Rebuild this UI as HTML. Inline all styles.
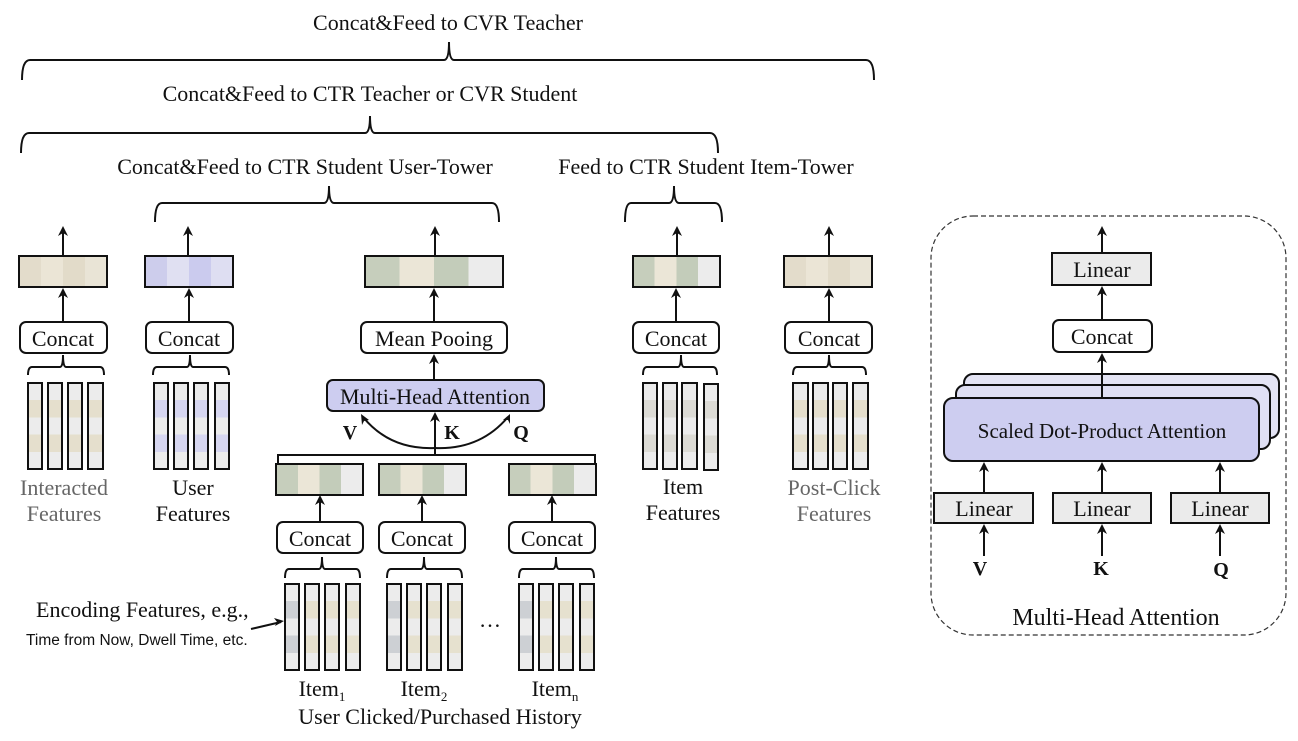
<!DOCTYPE html>
<html><head><meta charset="utf-8"><style>
html,body{margin:0;padding:0;background:#fff;}
svg{display:block;}
text{font-family:"Liberation Serif",serif;fill:#111;}
</style></head><body>
<svg width="1298" height="741" viewBox="0 0 1298 741" xmlns="http://www.w3.org/2000/svg">
<defs>
<linearGradient id="gTan" x1="0" x2="1" y1="0" y2="0">
<stop offset="0" stop-color="#e3dccb"/><stop offset="0.25" stop-color="#e3dccb"/><stop offset="0.25" stop-color="#ebe5d6"/><stop offset="0.5" stop-color="#ebe5d6"/><stop offset="0.5" stop-color="#e2dbc9"/><stop offset="0.75" stop-color="#e2dbc9"/><stop offset="0.75" stop-color="#e9e4d6"/><stop offset="1" stop-color="#e9e4d6"/></linearGradient>
<linearGradient id="gBlue" x1="0" x2="1" y1="0" y2="0">
<stop offset="0" stop-color="#cdcdec"/><stop offset="0.25" stop-color="#cdcdec"/><stop offset="0.25" stop-color="#e0e0f2"/><stop offset="0.5" stop-color="#e0e0f2"/><stop offset="0.5" stop-color="#cbcbee"/><stop offset="0.75" stop-color="#cbcbee"/><stop offset="0.75" stop-color="#dedef2"/><stop offset="1" stop-color="#dedef2"/></linearGradient>
<linearGradient id="gGreen" x1="0" x2="1" y1="0" y2="0">
<stop offset="0" stop-color="#c6cebc"/><stop offset="0.25" stop-color="#c6cebc"/><stop offset="0.25" stop-color="#ebe6d7"/><stop offset="0.5" stop-color="#ebe6d7"/><stop offset="0.5" stop-color="#c3ccba"/><stop offset="0.75" stop-color="#c3ccba"/><stop offset="0.75" stop-color="#ececec"/><stop offset="1" stop-color="#ececec"/></linearGradient>
<linearGradient id="vTan" x1="0" x2="0" y1="0" y2="1">
<stop offset="0" stop-color="#ececec"/><stop offset="0.2" stop-color="#ececec"/><stop offset="0.2" stop-color="#e5dfcd"/><stop offset="0.4" stop-color="#e5dfcd"/><stop offset="0.4" stop-color="#ececec"/><stop offset="0.6" stop-color="#ececec"/><stop offset="0.6" stop-color="#e5dfcd"/><stop offset="0.8" stop-color="#e5dfcd"/><stop offset="0.8" stop-color="#ececec"/><stop offset="1" stop-color="#ececec"/></linearGradient>
<linearGradient id="vBlue" x1="0" x2="0" y1="0" y2="1">
<stop offset="0" stop-color="#ececec"/><stop offset="0.2" stop-color="#ececec"/><stop offset="0.2" stop-color="#d6d6f0"/><stop offset="0.4" stop-color="#d6d6f0"/><stop offset="0.4" stop-color="#ececec"/><stop offset="0.6" stop-color="#ececec"/><stop offset="0.6" stop-color="#d6d6f0"/><stop offset="0.8" stop-color="#d6d6f0"/><stop offset="0.8" stop-color="#ececec"/><stop offset="1" stop-color="#ececec"/></linearGradient>
<linearGradient id="vMix" x1="0" x2="0" y1="0" y2="1">
<stop offset="0" stop-color="#ececec"/><stop offset="0.2" stop-color="#ececec"/><stop offset="0.2" stop-color="#dcdbd5"/><stop offset="0.4" stop-color="#dcdbd5"/><stop offset="0.4" stop-color="#ececec"/><stop offset="0.6" stop-color="#ececec"/><stop offset="0.6" stop-color="#dcdbd5"/><stop offset="0.8" stop-color="#dcdbd5"/><stop offset="0.8" stop-color="#ececec"/><stop offset="1" stop-color="#ececec"/></linearGradient>
<linearGradient id="vGray" x1="0" x2="0" y1="0" y2="1">
<stop offset="0" stop-color="#ececec"/><stop offset="0.2" stop-color="#ececec"/><stop offset="0.2" stop-color="#cdd0d4"/><stop offset="0.4" stop-color="#cdd0d4"/><stop offset="0.4" stop-color="#ececec"/><stop offset="0.6" stop-color="#ececec"/><stop offset="0.6" stop-color="#cdd0d4"/><stop offset="0.8" stop-color="#cdd0d4"/><stop offset="0.8" stop-color="#ececec"/><stop offset="1" stop-color="#ececec"/></linearGradient>
<linearGradient id="vItem" x1="0" x2="0" y1="0" y2="1">
<stop offset="0" stop-color="#ececec"/><stop offset="0.2" stop-color="#ececec"/><stop offset="0.2" stop-color="#e6e1cf"/><stop offset="0.4" stop-color="#e6e1cf"/><stop offset="0.4" stop-color="#ececec"/><stop offset="0.6" stop-color="#ececec"/><stop offset="0.6" stop-color="#e6e1cf"/><stop offset="0.8" stop-color="#e6e1cf"/><stop offset="0.8" stop-color="#ececec"/><stop offset="1" stop-color="#ececec"/></linearGradient>
</defs>

<g fill="none" stroke="#111" stroke-width="2">
<path d="M22 80 Q22 60 30 60 L444 60 Q449 60 449 42 Q449 60 454 60 L866 60 Q874 60 874 80"/>
<path d="M21 153 Q21 133 29 133 L365 133 Q370 133 370 116 Q370 133 375 133 L710 133 Q718 133 718 153"/>
<path d="M155 222 Q155 203 162 203 L324 203 Q329 203 329 186 Q329 203 334 203 L492 203 Q499 203 499 222"/>
<path d="M625 222 Q625 203 631 203 L669 203 Q674 203 674 186 Q674 203 679 203 L715 203 Q722 203 722 222"/>
<path d="M28 375 Q28 367 32 367 L60 367 Q63 367 63 355 Q63 367 66 367 L100 367 Q104 367 104 375"/>
<path d="M153 375 Q153 367 157 367 L187 367 Q190 367 190 355 Q190 367 193 367 L225 367 Q229 367 229 375"/>
<path d="M643 375 Q643 367 647 367 L678 367 Q681 367 681 355 Q681 367 684 367 L713 367 Q717 367 717 375"/>
<path d="M793 375 Q793 367 797 367 L826 367 Q829 367 829 355 Q829 367 832 367 L862 367 Q866 367 866 375"/>
<path d="M285 578 Q285 569 289 569 L319 569 Q322 569 322 557 Q322 569 325 569 L356 569 Q360 569 360 578"/>
<path d="M387 578 Q387 569 391 569 L421 569 Q424 569 424 557 Q424 569 427 569 L458 569 Q462 569 462 578"/>
<path d="M519 578 Q519 569 523 569 L553 569 Q556 569 556 557 Q556 569 559 569 L590 569 Q594 569 594 578"/>
</g>

<g font-size="22" text-anchor="middle">
<text x="448" y="30">Concat&amp;Feed to CVR Teacher</text>
<text x="370" y="101">Concat&amp;Feed to CTR Teacher or CVR Student</text>
<text x="305" y="174">Concat&amp;Feed to CTR Student User-Tower</text>
<text x="706" y="174">Feed to CTR Student Item-Tower</text>
</g>

<g stroke="#111" stroke-width="2" fill="none">
<path d="M63 255 V230 M188 255 V230 M435 255 V230 M677 255 V230 M829 255 V230"/>
<path d="M63 322 V290 M189 322 V290 M434 322 V290 M676 322 V290 M829 322 V290"/>
<path d="M434 380 V356"/>
<path d="M320 521 V497 M422 521 V497 M552 521 V497"/>
<path d="M435 455 V414"/>
<path d="M278 463 V455 H595 V463"/>
<path d="M435 448 Q390 450 363 417"/>
<path d="M435 448 Q480 450 508 417"/>
<path d="M251 629 L281 622"/>
<path d="M1102 253 V228 M1102 320 V288 M1102 398 V355"/>
<path d="M984 493 V464 M1102 493 V464 M1220 493 V464"/>
<path d="M984 556 V526 M1102 556 V526 M1220 556 V526"/>
</g>
<g fill="#111">
<path d="M63 226 l-5 10 l5 -3 l5 3z M188 226 l-5 10 l5 -3 l5 3z M435 226 l-5 10 l5 -3 l5 3z M677 226 l-5 10 l5 -3 l5 3z M829 226 l-5 10 l5 -3 l5 3z"/>
<path d="M63 288 l-5 10 l5 -3 l5 3z M189 288 l-5 10 l5 -3 l5 3z M434 288 l-5 10 l5 -3 l5 3z M676 288 l-5 10 l5 -3 l5 3z M829 288 l-5 10 l5 -3 l5 3z"/>
<path d="M434 354 l-5 10 l5 -3 l5 3z M435 412 l-5 10 l5 -3 l5 3z"/>
<path d="M320 495 l-5 10 l5 -3 l5 3z M422 495 l-5 10 l5 -3 l5 3z M552 495 l-5 10 l5 -3 l5 3z"/>
<path d="M361 414 l1 11 l2 -4 l5 -1z M510 414 l-7 6 l5 0 l2 4z"/>
<path d="M284 621 l-10 -3 l3 4 l-2 4z"/>
<path d="M1102 226 l-5 10 l5 -3 l5 3z M1102 286 l-5 10 l5 -3 l5 3z M1102 353 l-5 10 l5 -3 l5 3z"/>
<path d="M984 462 l-5 10 l5 -3 l5 3z M1102 462 l-5 10 l5 -3 l5 3z M1220 462 l-5 10 l5 -3 l5 3z"/>
<path d="M984 524 l-5 10 l5 -3 l5 3z M1102 524 l-5 10 l5 -3 l5 3z M1220 524 l-5 10 l5 -3 l5 3z"/>
</g>

<g stroke="#111" stroke-width="2">
<rect x="19" y="256" width="88" height="31" fill="url(#gTan)"/>
<rect x="145" y="256" width="88" height="31" fill="url(#gBlue)"/>
<rect x="365" y="256" width="138" height="31" fill="url(#gGreen)"/>
<rect x="633" y="256" width="87" height="31" fill="url(#gGreen)"/>
<rect x="784" y="256" width="88" height="31" fill="url(#gTan)"/>
<rect x="276" y="464" width="87" height="31" fill="url(#gGreen)"/>
<rect x="379" y="464" width="87" height="31" fill="url(#gGreen)"/>
<rect x="509" y="464" width="87" height="31" fill="url(#gGreen)"/>
</g>

<g stroke="#111" stroke-width="2" fill="#fff">
<rect x="20" y="322" width="87" height="31" rx="6"/>
<rect x="146" y="322" width="87" height="31" rx="6"/>
<rect x="361" y="322" width="146" height="31" rx="6"/>
<rect x="633" y="322" width="86" height="31" rx="6"/>
<rect x="785" y="322" width="87" height="31" rx="6"/>
<rect x="277" y="522" width="86" height="31" rx="6"/>
<rect x="379" y="522" width="86" height="31" rx="6"/>
<rect x="509" y="522" width="86" height="31" rx="6"/>
<rect x="327" y="380" width="217" height="31" rx="6" fill="#cdcdf0"/>
</g>
<g font-size="22" text-anchor="middle">
<text x="63" y="346">Concat</text>
<text x="189" y="346">Concat</text>
<text x="434" y="346">Mean Pooing</text>
<text x="676" y="346">Concat</text>
<text x="829" y="346">Concat</text>
<text x="320" y="546">Concat</text>
<text x="422" y="546">Concat</text>
<text x="552" y="546">Concat</text>
<text x="435" y="404">Multi-Head Attention</text>
</g>
<g font-size="20" font-weight="bold" text-anchor="middle">
<text x="350" y="439">V</text>
<text x="452" y="439">K</text>
<text x="521" y="439">Q</text>
</g>

<g stroke="#111" stroke-width="2">
<rect x="28" y="383" width="14" height="86" fill="url(#vTan)"/>
<rect x="48" y="383" width="14" height="86" fill="url(#vTan)"/>
<rect x="68" y="383" width="14" height="86" fill="url(#vTan)"/>
<rect x="88" y="383" width="15" height="86" fill="url(#vTan)"/>
<rect x="154" y="383" width="14" height="86" fill="url(#vBlue)"/>
<rect x="174" y="383" width="14" height="86" fill="url(#vBlue)"/>
<rect x="194" y="383" width="14" height="86" fill="url(#vBlue)"/>
<rect x="215" y="383" width="14" height="86" fill="url(#vBlue)"/>
<rect x="643" y="383" width="14" height="86" fill="url(#vMix)"/>
<rect x="663" y="383" width="14" height="86" fill="url(#vMix)"/>
<rect x="682" y="383" width="15" height="86" fill="url(#vMix)"/>
<rect x="704" y="384" width="14" height="86" fill="url(#vMix)"/>
<rect x="793" y="383" width="15" height="86" fill="url(#vTan)"/>
<rect x="813" y="383" width="15" height="86" fill="url(#vTan)"/>
<rect x="833" y="383" width="14" height="86" fill="url(#vTan)"/>
<rect x="853" y="383" width="15" height="86" fill="url(#vTan)"/>
<rect x="285" y="584" width="14" height="86" fill="url(#vGray)"/>
<rect x="305" y="584" width="14" height="86" fill="url(#vItem)"/>
<rect x="325" y="584" width="14" height="86" fill="url(#vItem)"/>
<rect x="346" y="584" width="14" height="86" fill="url(#vItem)"/>
<rect x="387" y="584" width="14" height="86" fill="url(#vGray)"/>
<rect x="407" y="584" width="14" height="86" fill="url(#vItem)"/>
<rect x="427" y="584" width="14" height="86" fill="url(#vItem)"/>
<rect x="448" y="584" width="14" height="86" fill="url(#vItem)"/>
<rect x="519" y="584" width="14" height="86" fill="url(#vGray)"/>
<rect x="539" y="584" width="14" height="86" fill="url(#vItem)"/>
<rect x="559" y="584" width="14" height="86" fill="url(#vItem)"/>
<rect x="580" y="584" width="14" height="86" fill="url(#vItem)"/>
</g>

<g font-size="22" text-anchor="middle">
<text x="64" y="495" style="fill:#666">Interacted</text>
<text x="64" y="521" style="fill:#666">Features</text>
<text x="193" y="495">User</text>
<text x="193" y="521">Features</text>
<text x="683" y="494">Item</text>
<text x="683" y="520">Features</text>
<text x="834" y="495" style="fill:#666">Post-Click</text>
<text x="834" y="521" style="fill:#666">Features</text>
<text x="322" y="696">Item<tspan font-size="13" dy="5">1</tspan></text>
<text x="424" y="696">Item<tspan font-size="13" dy="5">2</tspan></text>
<text x="555" y="696">Item<tspan font-size="13" dy="5">n</tspan></text>
<text x="440" y="724">User Clicked/Purchased History</text>
<text x="490" y="627">…</text>
</g>
<text x="36" y="617" font-size="22">Encoding Features, e.g.,</text>
<text x="26" y="645" font-size="15.5" style="font-family:'Liberation Sans',sans-serif">Time from Now, Dwell Time, etc.</text>

<rect x="931" y="216" width="355" height="419" rx="42" fill="none" stroke="#333" stroke-width="1.2" stroke-dasharray="5,3"/>
<g stroke="#111" stroke-width="2">
<rect x="1052" y="253" width="99" height="32" fill="#ebebeb"/>
<rect x="1053" y="320" width="99" height="32" rx="6" fill="#fff"/>
<rect x="964" y="374" width="315" height="64" rx="9" fill="#e4e4f4"/>
<rect x="956" y="385" width="314" height="64" rx="9" fill="#e0e0f4"/>
<rect x="944" y="398" width="315" height="63" rx="9" fill="#cdcdf0"/>
<rect x="934" y="493" width="99" height="30" fill="#ebebeb"/>
<rect x="1053" y="493" width="98" height="30" fill="#ebebeb"/>
<rect x="1171" y="493" width="98" height="30" fill="#ebebeb"/>
</g>
<path d="M1102 398 V355" stroke="#111" stroke-width="2"/>
<g font-size="22" text-anchor="middle">
<text x="1102" y="277">Linear</text>
<text x="1102" y="344">Concat</text>
<text x="1102" y="438" font-size="21">Scaled Dot-Product Attention</text>
<text x="984" y="516">Linear</text>
<text x="1102" y="516">Linear</text>
<text x="1220" y="516">Linear</text>
<text x="1116" y="625" font-size="24">Multi-Head Attention</text>
</g>
<g font-size="20" font-weight="bold" text-anchor="middle">
<text x="980" y="575">V</text>
<text x="1101" y="575">K</text>
<text x="1221" y="576">Q</text>
</g>
</svg>
</body></html>
